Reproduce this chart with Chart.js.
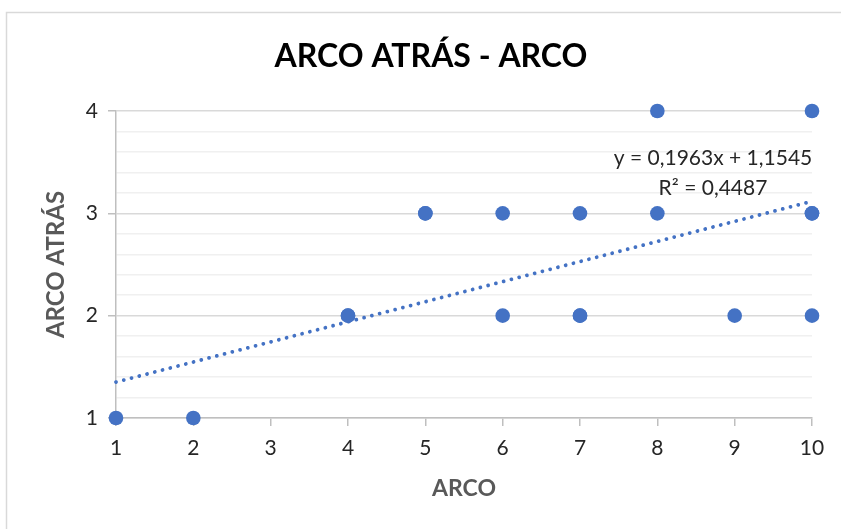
<!DOCTYPE html>
<html>
<head>
<meta charset="utf-8">
<script src="https://cdn.jsdelivr.net/npm/chart.js@4/dist/chart.umd.min.js"></script>
<style>
  html, body { margin: 0; padding: 0; background: #fff; }
  #wrap { position: relative; width: 841px; height: 529px; }
</style>
</head>
<body>
<div id="wrap"><canvas id="c" width="841" height="529"></canvas></div>
<script>
// ---- Data ----
const arcoX      = [1, 2, 4, 4, 5, 5, 6, 6, 7, 7, 7, 8, 8, 9, 10, 10, 10, 10];
const arcoAtrasY = [1, 1, 2, 2, 3, 3, 3, 2, 3, 2, 2, 4, 3, 2, 4, 3, 3, 2];
const trendSlope = 0.1963;
const trendIntercept = 1.1545;
const trendR2 = 0.4487;
const equationLines = ['y = 0,1963x + 1,1545', 'R² = 0,4487'];
const xTickValues = [1, 2, 3, 4, 5, 6, 7, 8, 9, 10];
const yTickValues = [1, 2, 3, 4];
const chartTitle = 'ARCO ATRÁS - ARCO';
const xTitle = 'ARCO';
const yTitle = 'ARCO ATRÁS';

const FONT = 'Lato';
const BLUE = '#4472C4';

const points = arcoX.map((x, i) => ({ x: x, y: arcoAtrasY[i] }));
const xMin = xTickValues[0], xMax = xTickValues[xTickValues.length - 1];
const yMin = yTickValues[0], yMax = yTickValues[yTickValues.length - 1];
const trendPoints = [
  { x: xMin, y: trendSlope * xMin + trendIntercept },
  { x: xMax, y: trendSlope * xMax + trendIntercept }
];
// minor gridlines every 0.2 between the labelled ticks
const yGridValues = [];
for (let i = 0; i <= (yMax - yMin) * 5; i++) yGridValues.push(Math.round((yMin + i * 0.2) * 10) / 10);

const isMajor = v => Math.abs(v - Math.round(v)) < 1e-6;

const frame = {
  id: 'frame',
  beforeDraw(chart) {
    const ctx = chart.ctx;
    ctx.save();
    ctx.fillStyle = '#fff';
    ctx.fillRect(0, 0, chart.width, chart.height);
    ctx.strokeStyle = '#d9d9d9';
    ctx.lineWidth = 1.5;
    ctx.strokeRect(6.5, 12.5, chart.width + 20, chart.height + 20);
    ctx.font = 'bold 32px ' + FONT;
    ctx.fillStyle = '#000';
    ctx.textAlign = 'center';
    ctx.textBaseline = 'alphabetic';
    ctx.fillText(chartTitle, 431, 67);
    ctx.restore();
  }
};

const equation = {
  id: 'equation',
  afterDatasetsDraw(chart) {
    const ctx = chart.ctx;
    const ys = chart.scales.y;
    ctx.save();
    ctx.font = '21px ' + FONT;
    ctx.fillStyle = '#262626';
    ctx.textAlign = 'center';
    ctx.textBaseline = 'middle';
    const cx = chart.chartArea.right - 99;
    ctx.fillText(equationLines[0], cx, ys.getPixelForValue(3.54));
    ctx.fillText(equationLines[1], cx, ys.getPixelForValue(3.25));
    ctx.restore();
  }
};

new Chart(document.getElementById('c'), {
  type: 'scatter',
  data: {
    datasets: [
      {
        label: 'ARCO ATRÁS',
        data: points,
        backgroundColor: BLUE,
        borderColor: BLUE,
        pointRadius: 7.3,
        pointHoverRadius: 7.3,
        borderWidth: 0,
        clip: false,
        order: 1
      },
      {
        type: 'line',
        label: 'Lineal',
        data: trendPoints,
        borderColor: BLUE,
        borderWidth: 3.8,
        borderDash: [0.01, 8],
        borderCapStyle: 'round',
        pointRadius: 0,
        fill: false,
        clip: false,
        order: 2
      }
    ]
  },
  options: {
    responsive: false,
    animation: false,
    events: [],
    layout: { padding: { left: 0, right: 29, top: 111, bottom: 0 } },
    plugins: {
      legend: { display: false },
      tooltip: { enabled: false },
      title: { display: false }
    },
    scales: {
      x: {
        type: 'linear',
        min: xMin, max: xMax,
        afterFit(s) { s.height = 111; },
        afterBuildTicks(s) { s.ticks = xTickValues.map(v => ({ value: v })); },
        ticks: { color: '#262626', font: { family: FONT, size: 21 }, padding: 10, maxRotation: 0, autoSkip: false },
        grid: { drawOnChartArea: false, drawTicks: true, tickLength: 8, tickColor: '#bfbfbf', lineWidth: 1.5 },
        border: { color: '#bfbfbf', width: 1.5 },
        title: {
          display: true, text: xTitle, color: '#595959',
          font: { family: FONT, size: 23, weight: 'bold', lineHeight: 1.2 },
          padding: { top: 0, bottom: 27 }
        }
      },
      y: {
        type: 'linear',
        min: yMin, max: yMax,
        afterFit(s) { s.width = 116; },
        afterBuildTicks(s) { s.ticks = yGridValues.map(v => ({ value: v })); },
        ticks: {
          autoSkip: false,
          color: '#262626',
          font: { family: FONT, size: 21 },
          padding: 10,
          callback(v) {
            const r = Math.round(v);
            return (isMajor(v) && yTickValues.includes(r)) ? String(r) : '';
          }
        },
        grid: {
          color(ctx) {
            const v = ctx.tick ? ctx.tick.value : 0;
            return isMajor(v) ? '#d9d9d9' : '#f0f0f0';
          },
          tickColor(ctx) {
            const v = ctx.tick ? ctx.tick.value : 0;
            return isMajor(v) ? '#bfbfbf' : 'rgba(0,0,0,0)';
          },
          lineWidth: 1.5,
          tickLength: 8
        },
        border: { color: '#bfbfbf', width: 1.5 },
        title: {
          display: true, text: yTitle, color: '#595959',
          font: { family: FONT, size: 24, weight: 'bold', lineHeight: 1.2 },
          padding: { top: 42, bottom: 0 }
        }
      }
    }
  },
  plugins: [frame, equation]
});
</script>
</body>
</html>
